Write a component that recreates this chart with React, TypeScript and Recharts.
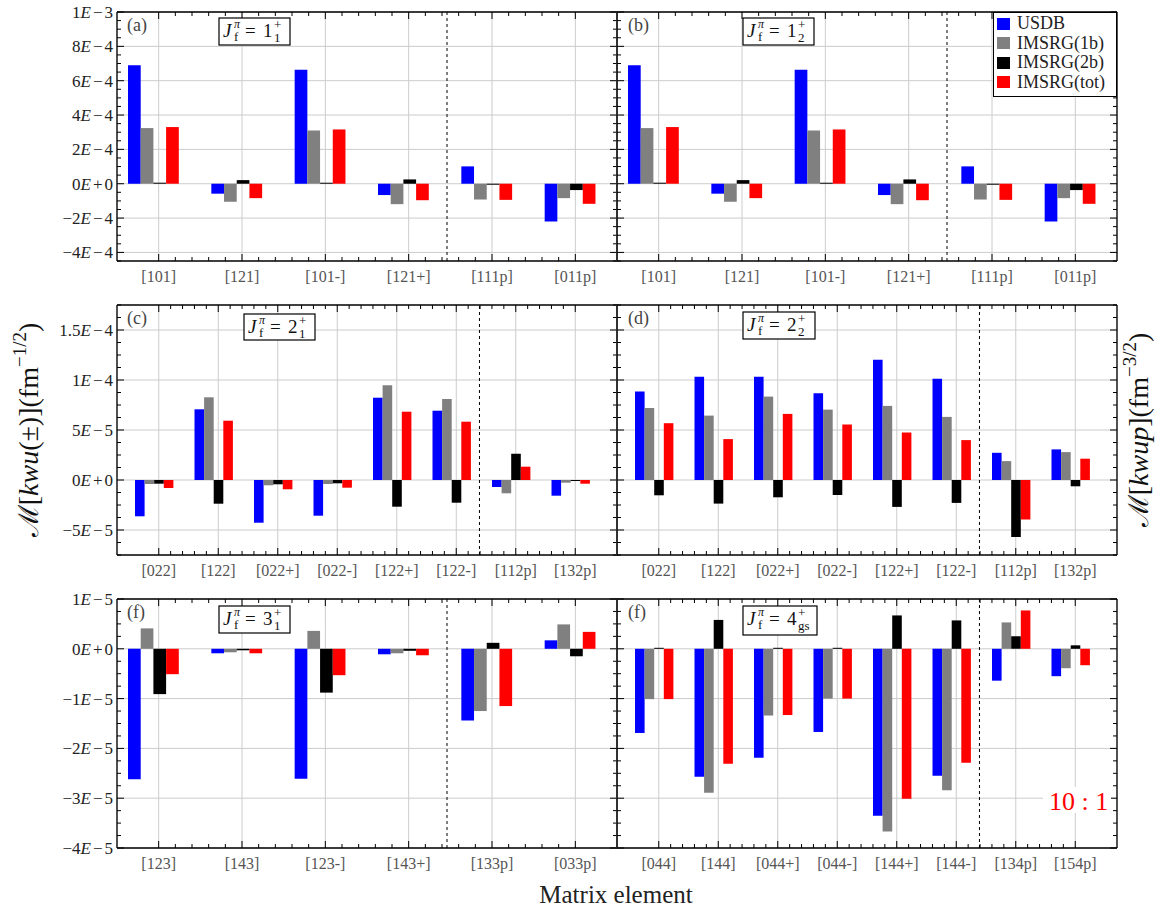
import React from "react";
import { Bar, BarChart, CartesianGrid, Legend, ReferenceLine, XAxis, YAxis } from "recharts";

const FONT = '"Liberation Serif", "DejaVu Serif", serif';

// series
const seriesNames = ["USDB", "IMSRG(1b)", "IMSRG(2b)", "IMSRG(tot)"];
const seriesKeys = ["usdb", "imsrg1b", "imsrg2b", "imsrgTot"];
const seriesColors = ["#0000ff", "#808080", "#000000", "#ff0000"];

// (a) J = 1_1+
const catsA = ["[101]", "[121]", "[101-]", "[121+]", "[111p]", "[011p]"];
const usdbA = [6.9e-4, -0.58e-4, 6.63e-4, -0.66e-4, 1.01e-4, -2.2e-4];
const imsrg1bA = [3.24e-4, -1.05e-4, 3.1e-4, -1.19e-4, -0.92e-4, -0.84e-4];
const imsrg2bA = [0.06e-4, 0.21e-4, 0.05e-4, 0.25e-4, -0.03e-4, -0.37e-4];
const imsrgTotA = [3.3e-4, -0.84e-4, 3.16e-4, -0.96e-4, -0.94e-4, -1.17e-4];

// (b) J = 1_2+
const catsB = ["[101]", "[121]", "[101-]", "[121+]", "[111p]", "[011p]"];
const usdbB = [6.9e-4, -0.58e-4, 6.63e-4, -0.66e-4, 1.01e-4, -2.2e-4];
const imsrg1bB = [3.24e-4, -1.05e-4, 3.1e-4, -1.19e-4, -0.92e-4, -0.84e-4];
const imsrg2bB = [0.06e-4, 0.21e-4, 0.05e-4, 0.25e-4, -0.03e-4, -0.37e-4];
const imsrgTotB = [3.3e-4, -0.84e-4, 3.16e-4, -0.96e-4, -0.94e-4, -1.17e-4];

// (c) J = 2_1+
const catsC = ["[022]", "[122]", "[022+]", "[022-]", "[122+]", "[122-]", "[112p]", "[132p]"];
const usdbC = [-3.63e-5, 7.07e-5, -4.27e-5, -3.57e-5, 8.23e-5, 6.93e-5, -0.7e-5, -1.57e-5];
const imsrg1bC = [-0.4e-5, 8.27e-5, -0.53e-5, -0.4e-5, 9.47e-5, 8.1e-5, -1.33e-5, -0.27e-5];
const imsrg2bC = [-0.37e-5, -2.37e-5, -0.43e-5, -0.33e-5, -2.67e-5, -2.27e-5, 2.63e-5, -0.07e-5];
const imsrgTotC = [-0.8e-5, 5.93e-5, -0.93e-5, -0.77e-5, 6.83e-5, 5.83e-5, 1.33e-5, -0.37e-5];

// (d) J = 2_2+
const catsD = ["[022]", "[122]", "[022+]", "[022-]", "[122+]", "[122-]", "[112p]", "[132p]"];
const usdbD = [8.84e-5, 10.33e-5, 10.33e-5, 8.67e-5, 12.03e-5, 10.13e-5, 2.72e-5, 3.06e-5];
const imsrg1bD = [7.2e-5, 6.44e-5, 8.34e-5, 7.04e-5, 7.41e-5, 6.31e-5, 1.89e-5, 2.79e-5];
const imsrg2bD = [-1.53e-5, -2.36e-5, -1.73e-5, -1.5e-5, -2.69e-5, -2.29e-5, -5.71e-5, -0.63e-5];
const imsrgTotD = [5.68e-5, 4.09e-5, 6.61e-5, 5.55e-5, 4.75e-5, 3.99e-5, -3.95e-5, 2.13e-5];

// (e) J = 3_1+
const catsE = ["[123]", "[143]", "[123-]", "[143+]", "[133p]", "[033p]"];
const usdbE = [-2.62e-5, -0.09e-5, -2.61e-5, -0.11e-5, -1.44e-5, 0.17e-5];
const imsrg1bE = [0.41e-5, -0.07e-5, 0.36e-5, -0.09e-5, -1.25e-5, 0.49e-5];
const imsrg2bE = [-0.91e-5, -0.03e-5, -0.88e-5, -0.04e-5, 0.12e-5, -0.15e-5];
const imsrgTotE = [-0.51e-5, -0.09e-5, -0.53e-5, -0.13e-5, -1.15e-5, 0.34e-5];

// (f) J = 4_gs+
const catsF = ["[044]", "[144]", "[044+]", "[044-]", "[144+]", "[144-]", "[134p]", "[154p]"];
const usdbF = [-1.69e-5, -2.57e-5, -2.19e-5, -1.67e-5, -3.35e-5, -2.55e-5, -0.64e-5, -0.55e-5];
const imsrg1bF = [-1.01e-5, -2.89e-5, -1.34e-5, -1.0e-5, -3.67e-5, -2.84e-5, 0.53e-5, -0.39e-5];
const imsrg2bF = [0.01e-5, 0.58e-5, 0.01e-5, 0.01e-5, 0.67e-5, 0.57e-5, 0.25e-5, 0.07e-5];
const imsrgTotF = [-1.01e-5, -2.31e-5, -1.33e-5, -1.0e-5, -3.01e-5, -2.29e-5, 0.77e-5, -0.33e-5];

// y ticks per row
const yTicksTop = [-4e-4, -2e-4, 0, 2e-4, 4e-4, 6e-4, 8e-4, 1e-3];
const yLabelsTop = ["−4E−4", "−2E−4", "0E+0", "2E−4", "4E−4", "6E−4", "8E−4", "1E−3"];
const yTicksMid = [-5e-5, 0, 5e-5, 1e-4, 1.5e-4];
const yLabelsMid = ["−5E−5", "0E+0", "5E−5", "1E−4", "1.5E−4"];
const yTicksBot = [-4e-5, -3e-5, -2e-5, -1e-5, 0, 1e-5];
const yLabelsBot = ["−4E−5", "−3E−5", "−2E−5", "−1E−5", "0E+0", "1E−5"];

const AXIS_W = 110;
const PLOT_W = 500;

function buildRows(cats: string[], series: number[][]) {
  return cats.map((name, i) => {
    const row: Record<string, any> = { name };
    seriesKeys.forEach((k, s) => (row[k] = series[s][i]));
    return row;
  });
}

function SciLabel({ text, x, y }: { text: string; x: number; y: number }) {
  const e = text.indexOf("E");
  const mant = text.slice(0, e);
  const op = text.charAt(e + 1);
  const exp = text.slice(e + 2);
  return (
    <text x={x} y={y} dy="0.35em" textAnchor="end" fontSize={17} fill="#222" fontFamily={FONT}>
      <tspan>{mant}</tspan>
      <tspan fontStyle="italic">E</tspan>
      <tspan dx={2}>{op}</tspan>
      <tspan dx={2}>{exp}</tspan>
    </text>
  );
}

function LeftTick(props: any) {
  const { x, y, payload, majors, labels } = props;
  const i = majors.findIndex((m: number) => Math.abs(m - payload.value) < 1e-12);
  return (
    <g>
      <line x1={x} x2={x + (i >= 0 ? 7 : 4)} y1={y} y2={y} stroke="#000" />
      {i >= 0 && labels ? <SciLabel text={labels[i]} x={x - 4} y={y} /> : null}
    </g>
  );
}

function RightTick(props: any) {
  const { x, y, payload, majors } = props;
  const major = majors.some((m: number) => Math.abs(m - payload.value) < 1e-12);
  return <line x1={x} x2={x - (major ? 7 : 4)} y1={y} y2={y} stroke="#000" />;
}

function CatTick(props: any) {
  const { x, y, payload } = props;
  return (
    <g>
      <line x1={x} x2={x} y1={y} y2={y - 7} stroke="#000" />
      <text x={x} y={y + 21} textAnchor="middle" fontSize={16} fill="#555" fontFamily={FONT}>
        {payload.value}
      </text>
    </g>
  );
}

function MinorBottomTick(props: any) {
  const { x, y } = props;
  return <line x1={x} x2={x} y1={y - 1} y2={y - 5} stroke="#000" />;
}

function TopTick(props: any) {
  const { x, y, payload } = props;
  const major = Math.abs(payload.value - Math.round(payload.value)) < 1e-6;
  return <line x1={x} x2={x} y1={y} y2={y + (major ? 7 : 4)} stroke="#000" />;
}

function LegendBox() {
  return (
    <div
      style={{
        width: 124,
        height: 85,
        boxSizing: "border-box",
        border: "1.2px solid #000",
        background: "#fff",
        padding: "1px 3px",
        fontFamily: FONT,
        fontSize: 18,
        color: "#222",
      }}
    >
      {seriesNames.map((n, i) => (
        <div key={n} style={{ display: "flex", alignItems: "center", height: 19.5 }}>
          <span style={{ display: "inline-block", width: 13, height: 12, background: seriesColors[i], marginRight: 7 }} />
          <span>{n}</span>
        </div>
      ))}
    </div>
  );
}

type PanelProps = {
  left: number;
  top: number;
  height: number;
  cats: string[];
  series: number[][];
  domain: [number, number];
  majors: number[];
  labels?: string[];
  minorStep: number;
  barSize: number;
  slotSize: number;
  pad: number;
  split: number;
  legend?: boolean;
};

function Panel(p: PanelProps) {
  const data = buildRows(p.cats, p.series);
  const n = p.cats.length;
  const nY = Math.round((p.domain[1] - p.domain[0]) / p.minorStep);
  const yAll: number[] = [];
  for (let k = 0; k <= nY; k++) yAll.push(p.domain[0] + k * p.minorStep);
  const xMinor: number[] = [];
  const xTop: number[] = [];
  for (let i = 0; i < n; i++) {
    xTop.push(i);
    if (i < n - 1) for (let k = 1; k < 5; k++) {
      xMinor.push(i + k * 0.2);
      xTop.push(i + k * 0.2);
    }
  }
  // numeric helper axes run from the first to the last category centre
  const band = (PLOT_W - 2 * p.pad) / n;
  const xDomain: [number, number] = [0, n - 1];
  const catPadding = { left: p.pad, right: p.pad };
  const numPadding = { left: p.pad + band / 2, right: p.pad + band / 2 };
  const frame = { stroke: "#000", strokeWidth: 1.3 };
  return (
    <div style={{ position: "absolute", left: p.left - AXIS_W, top: p.top - 10 }}>
      <BarChart
        width={AXIS_W + PLOT_W + 10}
        height={10 + p.height + 40}
        data={data}
        margin={{ top: 9, right: 9, bottom: 38, left: AXIS_W - 1 }}
        barGap={0}
      >
        <CartesianGrid xAxisId="cat" yAxisId="y" horizontalValues={p.majors} stroke="#cccccc" />
        <XAxis
          xAxisId="cat"
          dataKey="name"
          type="category"
          interval={0}
          padding={catPadding}
          height={1}
          axisLine={frame}
          tickLine={false}
          tickSize={0}
          tickMargin={0}
          tick={<CatTick />}
        />
        <XAxis
          xAxisId="minorB"
          type="number"
          domain={xDomain}
          allowDataOverflow
          ticks={xMinor}
          interval={0}
          padding={numPadding}
          height={1}
          axisLine={false}
          tickLine={false}
          tickSize={0}
          tickMargin={0}
          tick={<MinorBottomTick />}
        />
        <XAxis
          xAxisId="top"
          orientation="top"
          type="number"
          domain={xDomain}
          allowDataOverflow
          ticks={xTop}
          interval={0}
          padding={numPadding}
          height={1}
          axisLine={frame}
          tickLine={false}
          tickSize={0}
          tickMargin={0}
          tick={<TopTick />}
        />
        <YAxis
          yAxisId="y"
          type="number"
          domain={p.domain}
          allowDataOverflow
          ticks={yAll}
          interval={0}
          width={1}
          axisLine={frame}
          tickLine={false}
          tickSize={0}
          tickMargin={0}
          tick={<LeftTick majors={p.majors} labels={p.labels} />}
        />
        <YAxis
          yAxisId="yr"
          orientation="right"
          type="number"
          domain={p.domain}
          allowDataOverflow
          ticks={yAll}
          interval={0}
          width={1}
          axisLine={frame}
          tickLine={false}
          tickSize={0}
          tickMargin={0}
          tick={<RightTick majors={p.majors} />}
        />
        <ReferenceLine xAxisId="minorB" yAxisId="y" x={p.split} stroke="#000" strokeDasharray="3 3" />
        {seriesKeys.map((k, i) => (
          <Bar key={k} dataKey={k} name={seriesNames[i]} xAxisId="cat" yAxisId="y" fill={seriesColors[i]}
            barSize={p.barSize} minPointSize={1} isAnimationActive={false} />
        ))}
        {/* empty slot after the group, shifts the four bars left like the original */}
        <Bar dataKey="slot" xAxisId="cat" yAxisId="y" fill="none" legendType="none" barSize={p.slotSize} isAnimationActive={false} />
        {p.legend ? (
          <Legend
            layout="vertical"
            align="center"
            verticalAlign="middle"
            wrapperStyle={{ left: AXIS_W + PLOT_W - 124, top: 10, width: 124 }}
            content={() => <LegendBox />}
          />
        ) : null}
      </BarChart>
    </div>
  );
}

function JBox({ x, y, w, h, level, sub }: { x: number; y: number; w: number; h: number; level: string; sub: string }) {
  return (
    <g fontFamily={FONT} fill="#111">
      <rect x={x} y={y} width={w} height={h} fill="#fff" stroke="#000" strokeWidth={1.2} />
      <text x={x + 4} y={y + 19} fontSize={19} fontStyle="italic">J</text>
      <text x={x + 15} y={y + 10} fontSize={12} fontStyle="italic">π</text>
      <text x={x + 15} y={y + 23} fontSize={13}>f</text>
      <text x={x + 26} y={y + 19} fontSize={19}>=</text>
      <text x={x + 44} y={y + 19} fontSize={19}>{level}</text>
      <text x={x + 55} y={y + 11} fontSize={13}>+</text>
      <text x={x + 55} y={y + 24} fontSize={13}>{sub}</text>
    </g>
  );
}

function PanelTag({ x, y, t }: { x: number; y: number; t: string }) {
  return (
    <text x={x} y={y} fontSize={18} fill="#444" fontFamily={FONT}>
      {t}
    </text>
  );
}

export default function App() {
  return (
    <div style={{ position: "absolute", left: 0, top: 0, width: 1167, height: 918, background: "#fff", fontFamily: FONT }}>
      <Panel left={117} top={12} height={249} cats={catsA} series={[usdbA, imsrg1bA, imsrg2bA, imsrgTotA]}
        domain={[-4.5e-4, 1e-3]} majors={yTicksTop} labels={yLabelsTop} minorStep={5e-5} barSize={12.7} slotSize={10} pad={0} split={3.46} />
      <Panel left={617} top={12} height={249} cats={catsB} series={[usdbB, imsrg1bB, imsrg2bB, imsrgTotB]}
        domain={[-4.5e-4, 1e-3]} majors={yTicksTop} minorStep={5e-5} barSize={12.7} slotSize={10} pad={0} split={3.46} legend />
      <Panel left={117} top={305} height={250} cats={catsC} series={[usdbC, imsrg1bC, imsrg2bC, imsrgTotC]}
        domain={[-7.5e-5, 1.75e-4]} majors={yTicksMid} labels={yLabelsMid} minorStep={1.25e-5} barSize={9.6} slotSize={8.5} pad={12} split={5.39} />
      <Panel left={617} top={305} height={250} cats={catsD} series={[usdbD, imsrg1bD, imsrg2bD, imsrgTotD]}
        domain={[-7.5e-5, 1.75e-4]} majors={yTicksMid} minorStep={1.25e-5} barSize={9.6} slotSize={8.5} pad={12} split={5.39} />
      <Panel left={117} top={599} height={249} cats={catsE} series={[usdbE, imsrg1bE, imsrg2bE, imsrgTotE]}
        domain={[-4e-5, 1e-5]} majors={yTicksBot} labels={yLabelsBot} minorStep={2.5e-6} barSize={12.7} slotSize={10} pad={0} split={3.46} />
      <Panel left={617} top={599} height={249} cats={catsF} series={[usdbF, imsrg1bF, imsrg2bF, imsrgTotF]}
        domain={[-4e-5, 1e-5]} majors={yTicksBot} minorStep={2.5e-6} barSize={9.6} slotSize={8.5} pad={12} split={5.39} />

      <svg width={1167} height={918} style={{ position: "absolute", left: 0, top: 0, pointerEvents: "none" }}>
        <PanelTag x={127} y={31} t="(a)" />
        <PanelTag x={628} y={31} t="(b)" />
        <PanelTag x={127} y={324} t="(c)" />
        <PanelTag x={628} y={324} t="(d)" />
        <PanelTag x={127} y={618} t="(f)" />
        <PanelTag x={628} y={618} t="(f)" />

        <JBox x={219} y={18} w={71} h={27} level="1" sub="1" />
        <JBox x={743} y={18} w={71} h={27} level="1" sub="2" />
        <JBox x={244} y={314} w={71} h={26} level="2" sub="1" />
        <JBox x={743} y={312} w={72} h={27} level="2" sub="2" />
        <JBox x={219} y={606} w={71} h={27} level="3" sub="1" />
        <JBox x={743} y={606} w={74} h={29} level="4" sub="gs" />

        <rect x={1043} y={787} width={68} height={26} fill="#fff" />
        <text x={1049} y={810} fontSize={26} fill="#ff0000" fontFamily={FONT}>10 : 1</text>

        <text x={616} y={903} textAnchor="middle" fontSize={25} fill="#222" fontFamily={FONT}>Matrix element</text>

        <text transform="translate(38,430) rotate(-90)" textAnchor="middle" fontSize={28} fill="#111" fontFamily={FONT}>
          <tspan>ℳ[</tspan>
          <tspan fontStyle="italic">kwu</tspan>
          <tspan>(±)](fm</tspan>
          <tspan dy={-12} fontSize={19}>−1/2</tspan>
          <tspan dy={12}>)</tspan>
        </text>
        <text transform="translate(1148,430) rotate(-90)" textAnchor="middle" fontSize={28} fill="#111" fontFamily={FONT}>
          <tspan>ℳ[</tspan>
          <tspan fontStyle="italic">kwup</tspan>
          <tspan>](fm</tspan>
          <tspan dy={-12} fontSize={19}>−3/2</tspan>
          <tspan dy={12}>)</tspan>
        </text>
      </svg>
    </div>
  );
}
